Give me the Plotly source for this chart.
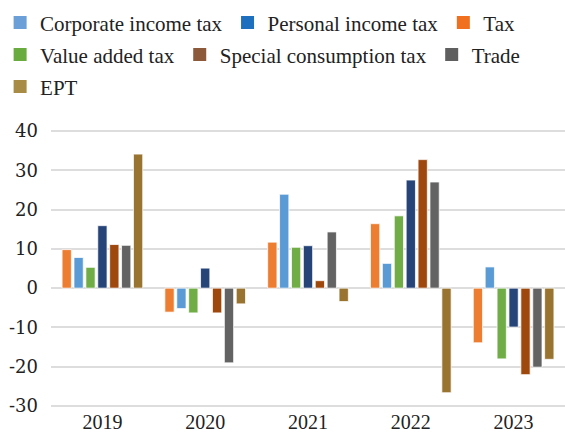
import plotly.graph_objects as go

years = ["2019", "2020", "2021", "2022", "2023"]

# Annual change by revenue item (%), in the order the bars sit inside each year
tax_total = [9.8, -6.1, 11.7, 16.4, -13.9]
corporate_income = [7.8, -5.2, 23.9, 6.3, 5.4]
value_added = [5.3, -6.3, 10.4, 18.4, -18.0]
personal_income = [15.9, 5.1, 10.8, 27.5, -9.9]
special_consumption = [11.1, -6.3, 1.9, 32.7, -22.0]
trade = [10.9, -19.0, 14.3, 27.0, -20.1]
ept = [34.1, -4.0, -3.4, -26.6, -18.1]

y_tick_vals = [-30, -20, -10, 0, 10, 20, 30, 40]
y_tick_text = ["-30", "-20", "-10", "0", "10", "20", "30", "40"]

# (legend name, values, bar colour, legend swatch colour, legend row, rank)
series = [
    ("Tax", tax_total, "#ED7D31", "#F07020", "legend", 3),
    ("Corporate income tax", corporate_income, "#5B9BD5", "#6A9FD8", "legend", 1),
    ("Value added tax", value_added, "#70AD47", "#6AAB3F", "legend2", 1),
    ("Personal income tax", personal_income, "#264478", "#1F6FBF", "legend", 2),
    ("Special consumption tax", special_consumption, "#9E480E", "#8C5A3A", "legend2", 2),
    ("Trade", trade, "#636363", "#5F5F60", "legend2", 3),
    ("EPT", ept, "#997330", "#A88B45", "legend3", 1),
]

fig = go.Figure()

for name, vals, bar_col, _, _, _ in series:
    fig.add_trace(go.Bar(
        x=years, y=vals, name=name, showlegend=False,
        marker=dict(color=bar_col, line=dict(color="rgba(255,255,255,0.75)", width=1)),
    ))

# Legend swatches, one legend per row
for name, _, _, sw_col, leg, rank in series:
    fig.add_trace(go.Scatter(
        x=[None], y=[None], mode="markers", name=name,
        legend=leg, legendrank=rank,
        marker=dict(symbol="square", size=13, color=sw_col),
    ))

legend_font = dict(family="Liberation Serif", size=21, color="#222222")


def row_legend(y):
    return dict(
        orientation="h", x=-0.099, y=y, xanchor="left", yanchor="top",
        font=legend_font, bgcolor="rgba(0,0,0,0)", traceorder="normal",
    )


fig.update_layout(
    width=565, height=435,
    margin=dict(l=51, r=0, t=127, b=25),
    paper_bgcolor="white", plot_bgcolor="white",
    barmode="group", bargap=0.19, bargroupgap=0.22,
    font=dict(family="Liberation Serif", size=20, color="#222222"),
    legend=row_legend(1.4405),
    legend2=row_legend(1.3274),
    legend3=row_legend(1.2141),
    xaxis=dict(
        type="category", showgrid=False, showline=False, ticks="",
        automargin=False, ticklabelstandoff=-2,
        tickfont=dict(family="Liberation Serif", size=20, color="#222222"),
    ),
    yaxis=dict(
        range=[-31, 41], tickvals=y_tick_vals, ticktext=y_tick_text,
        showgrid=True, gridcolor="#DDDDDD", gridwidth=2,
        zeroline=True, zerolinecolor="#DDDDDD", zerolinewidth=2,
        ticks="", automargin=False, ticklabelstandoff=12,
        tickfont=dict(family="DejaVu Serif", size=18, color="#222222"),
    ),
)

fig.write_html("out.html")
